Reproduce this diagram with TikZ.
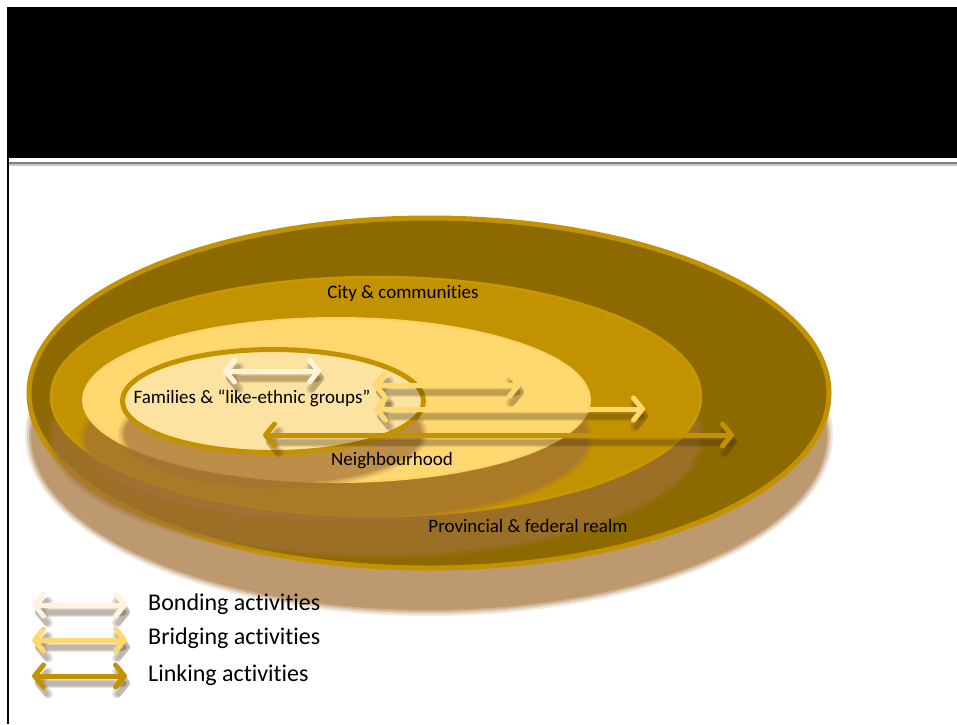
\documentclass[tikz,border=0pt]{standalone}
\usepackage{fontspec}
\setmainfont[Ligatures=NoCommon]{Carlito}
\usetikzlibrary{arrows.meta}
\definecolor{outerfill}{RGB}{140,106,0}
\definecolor{gold}{RGB}{195,146,0}
\definecolor{citybord}{RGB}{201,152,0}
\definecolor{neigh}{RGB}{255,216,112}
\definecolor{fam}{RGB}{253,227,161}
\definecolor{shad}{RGB}{164,114,56}
\definecolor{bond}{RGB}{255,243,222}
\definecolor{arshad}{RGB}{60,40,10}
\newcommand\mysoftshadow[4]{% x, y, rx, ry
  \foreach \d/\o in {4/0.15, 2/0.2, 0/0.3, -2/0.4}{
    \fill[shad, fill opacity=\o] (#1,#2) ellipse [x radius=#3pt+\d pt, y radius=#4pt+\d pt];
  }}
\begin{document}
\begin{tikzpicture}[x=1pt,y=-1pt,
  act/.style={line width=5pt, line cap=round,
    {Straight Barb[length=9pt,width=22pt,round]}-{Straight Barb[length=9pt,width=22pt,round]}},
  actshadow/.style={act, draw=arshad, draw opacity=0.12},
  lbl/.style={font=\fontsize{19}{22}\selectfont, inner sep=0pt, text=black},
  leg/.style={font=\fontsize{24}{28}\selectfont, anchor=west, inner sep=0pt, text=black}]
\useasboundingbox (0,0) rectangle (957,724);
\fill[white] (0,0) rectangle (957,724);
% title band and frame
\fill[black] (7,7) rectangle (957,158);
\draw[line width=2pt, black] (8,158) -- (8,724);
\fill[black!50] (9,161.5) rectangle (957,163.5);
\fill[black!22] (9,163.5) rectangle (957,165.5);
% outer ellipse (Provincial & federal realm)
\mysoftshadow{429}{435}{400}{177}
\filldraw[fill=outerfill, draw=gold, line width=5pt] (429,393) ellipse [x radius=400pt, y radius=175pt];
% city
\mysoftshadow{376}{436}{325}{120}
\filldraw[fill=gold, draw=citybord, line width=2.5pt] (376,396.5) ellipse [x radius=325pt, y radius=119.5pt];
% neighbourhood
\mysoftshadow{336.5}{439}{253}{82}
\filldraw[fill=neigh, draw=neigh!92!gold, line width=2pt] (336.5,400) ellipse [x radius=253.5pt, y radius=82pt];
% families
\mysoftshadow{273}{434}{151}{52}
\filldraw[fill=fam, draw=gold, line width=5pt] (273,401) ellipse [x radius=150.5pt, y radius=51.5pt];
% labels
\node[lbl] (city) at (403,293) {City \& communities};
\node[lbl] (nbh) at (392,461) {Neighbourhood};
\node[lbl] (prov) at (528,526) {Provincial \& federal realm};
\node[lbl] (fams) at (252,398) {Families \& “like-ethnic groups”};
% arrow end points
\coordinate (bA) at (223,371); \coordinate (bB) at (321,371);
\coordinate (rA) at (373,385); \coordinate (rB) at (521,385);
\coordinate (sA) at (374,409); \coordinate (sB) at (645,409);
\coordinate (kA) at (263,435); \coordinate (kB) at (734,435);
\coordinate (l1A) at (32,605); \coordinate (l1B) at (127,605);
\coordinate (l2A) at (32,640); \coordinate (l2B) at (127,640);
\coordinate (l3A) at (32,676); \coordinate (l3B) at (127,676);
% arrow shadows (soft)
\foreach \p/\q in {bA/bB, rA/rB, sA/sB, kA/kB, l1A/l1B, l2A/l2B, l3A/l3B}{
  \foreach \w in {9,7,5}{
    \draw[actshadow, line width=\w pt, transform canvas={shift={(3pt,-7pt)}}] (\p) -- (\q);
  }
}
% arrows
\draw[act, draw=bond] (bA) -- (bB);
\draw[act, draw=neigh] (rA) -- (rB);
\draw[act, draw=neigh] (sA) -- (sB);
\draw[act, draw=gold] (kA) -- (kB);
\draw[act, draw=bond] (l1A) -- (l1B);
\draw[act, draw=neigh] (l2A) -- (l2B);
\draw[act, draw=gold] (l3A) -- (l3B);
% legend
\node[leg] (t1) at (148,604) {Bonding activities};
\node[leg] (t2) at (148,638) {Bridging activities};
\node[leg] (t3) at (148,675) {Linking activities};
\end{tikzpicture}
\end{document}
